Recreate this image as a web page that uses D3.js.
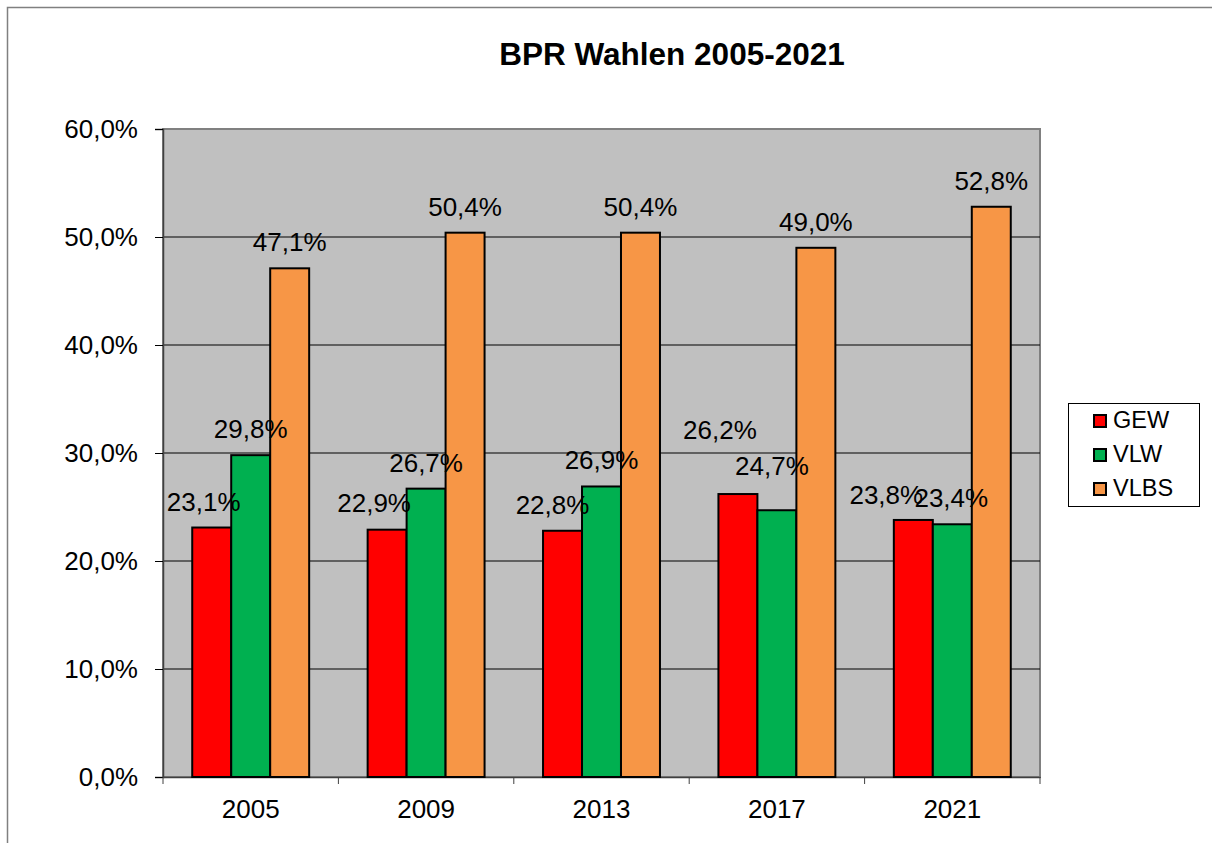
<!DOCTYPE html>
<html>
<head>
<meta charset="utf-8">
<script src="https://cdn.jsdelivr.net/npm/d3@7"></script>
<style>
  body { margin: 0; background: #fff; }
  text { font-family: "Liberation Sans", Arial, sans-serif; fill: #000; }
</style>
</head>
<body>
<div id="chart"></div>
<script>
// data
const years = ["2005", "2009", "2013", "2017", "2021"];
const seriesNames = ["GEW", "VLW", "VLBS"];
const gew = [23.1, 22.9, 22.8, 26.2, 23.8];
const vlw = [29.8, 26.7, 26.9, 24.7, 23.4];
const vlbs = [47.1, 50.4, 50.4, 49.0, 52.8];
const yTicks = [0, 10, 20, 30, 40, 50, 60];
const colors = ["#ff0000", "#00b050", "#f79646"];

const width = 1212, height = 843;
const plot = { left: 163, top: 129, right: 1040, bottom: 777 };

// hand-moved data labels in the original (pixel nudges, per series / year)
const labelNudge = [
    [[-8, 0], [-13, -1], [-10, 0], [-18, -38], [-27, 1]],
    [[0, 0], [0, 0], [0, 0], [-5, -18], [-1, 0]],
    [[0, 0], [0, 0], [0, 0], [0, 0], [0, 0]]
];

const svg = d3.select("#chart").append("svg")
    .attr("width", width)
    .attr("height", height);

// outer chart border (right/bottom run off the picture)
svg.append("rect")
    .attr("x", 7.5).attr("y", 7.5)
    .attr("width", width + 20).attr("height", height + 20)
    .attr("fill", "none")
    .attr("stroke", "#808080")
    .attr("stroke-width", 1.5);

svg.append("text")
    .attr("x", 672).attr("y", 65)
    .attr("text-anchor", "middle")
    .style("font-size", "31.5px")
    .style("font-weight", "bold")
    .text("BPR Wahlen 2005-2021");

const x = d3.scaleBand()
    .domain(years)
    .range([plot.left, plot.right])
    .paddingInner(0)
    .paddingOuter(0);

const groupW = x.bandwidth() * 3 / 4.5; // Excel gap width 150%
const x1 = d3.scaleBand()
    .domain(seriesNames)
    .range([(x.bandwidth() - groupW) / 2, (x.bandwidth() + groupW) / 2]);

const y = d3.scaleLinear()
    .domain([0, 60])
    .range([plot.bottom, plot.top]);

// plot background
svg.append("rect")
    .attr("x", plot.left).attr("y", plot.top)
    .attr("width", plot.right - plot.left)
    .attr("height", plot.bottom - plot.top)
    .attr("fill", "#c0c0c0")
    .attr("stroke", "#808080")
    .attr("stroke-width", 2);

// gridlines
svg.append("g")
    .selectAll("line")
    .data(yTicks.filter(d => d > 0 && d < 60))
    .join("line")
    .attr("x1", plot.left).attr("x2", plot.right)
    .attr("y1", d => y(d)).attr("y2", d => y(d))
    .attr("stroke", "#000")
    .attr("stroke-width", 1);

const pct = d => d3.format(".1f")(d).replace(".", ",") + "%";

// y axis
const yAxis = svg.append("g")
    .attr("transform", `translate(${plot.left},0)`)
    .call(d3.axisLeft(y).tickValues(yTicks).tickSize(8).tickPadding(17).tickFormat(pct));
yAxis.select(".domain").attr("stroke", "#404040").attr("stroke-width", 1.5);
yAxis.selectAll(".tick line").attr("stroke", "#000");
yAxis.selectAll("text")
    .style("font-size", "26px")
    .style("font-family", "'Liberation Sans', Arial, sans-serif");

// x axis
const xAxis = svg.append("g")
    .attr("transform", `translate(0,${plot.bottom})`)
    .call(d3.axisBottom(x).tickSize(0).tickPadding(23));
xAxis.select(".domain").attr("stroke", "#404040").attr("stroke-width", 1.5);
xAxis.selectAll("text")
    .style("font-size", "26px")
    .style("font-family", "'Liberation Sans', Arial, sans-serif");
// tick marks at category boundaries
svg.append("g")
    .selectAll("line")
    .data(years.concat(["end"]))
    .join("line")
    .attr("x1", (d, i) => plot.left + i * x.bandwidth())
    .attr("x2", (d, i) => plot.left + i * x.bandwidth())
    .attr("y1", plot.bottom).attr("y2", plot.bottom + 7)
    .attr("stroke", "#404040");

const series = [gew, vlw, vlbs];
const rows = [];
years.forEach((yr, i) => {
    series.forEach((s, j) => {
        rows.push({ year: yr, name: seriesNames[j], value: s[i], color: colors[j], nudge: labelNudge[j][i] });
    });
});

const bars = svg.append("g");
bars.selectAll("rect")
    .data(rows)
    .join("rect")
    .attr("x", d => x(d.year) + x1(d.name))
    .attr("y", d => y(d.value))
    .attr("width", x1.bandwidth())
    .attr("height", d => y(0) - y(d.value))
    .attr("fill", d => d.color)
    .attr("stroke", "#000")
    .attr("stroke-width", 2);

bars.selectAll("text")
    .data(rows)
    .join("text")
    .attr("x", d => x(d.year) + x1(d.name) + x1.bandwidth() / 2 + d.nudge[0])
    .attr("y", d => y(d.value) - 17 + d.nudge[1])
    .attr("text-anchor", "middle")
    .style("font-size", "26px")
    .text(d => pct(d.value));

// legend
const legend = svg.append("g").attr("transform", "translate(1068,403)");
legend.append("rect")
    .attr("x", 0.5).attr("y", 0.5)
    .attr("width", 131).attr("height", 103)
    .attr("fill", "#fff")
    .attr("stroke", "#000");
seriesNames.forEach((name, i) => {
    const g = legend.append("g").attr("transform", `translate(0,${i * 34})`);
    g.append("rect")
        .attr("x", 26).attr("y", 12)
        .attr("width", 12).attr("height", 12)
        .attr("fill", colors[i])
        .attr("stroke", "#000")
        .attr("stroke-width", 2);
    g.append("text")
        .attr("x", 45).attr("y", 25)
        .style("font-size", "23.5px")
        .text(name);
});
</script>
</body>
</html>
